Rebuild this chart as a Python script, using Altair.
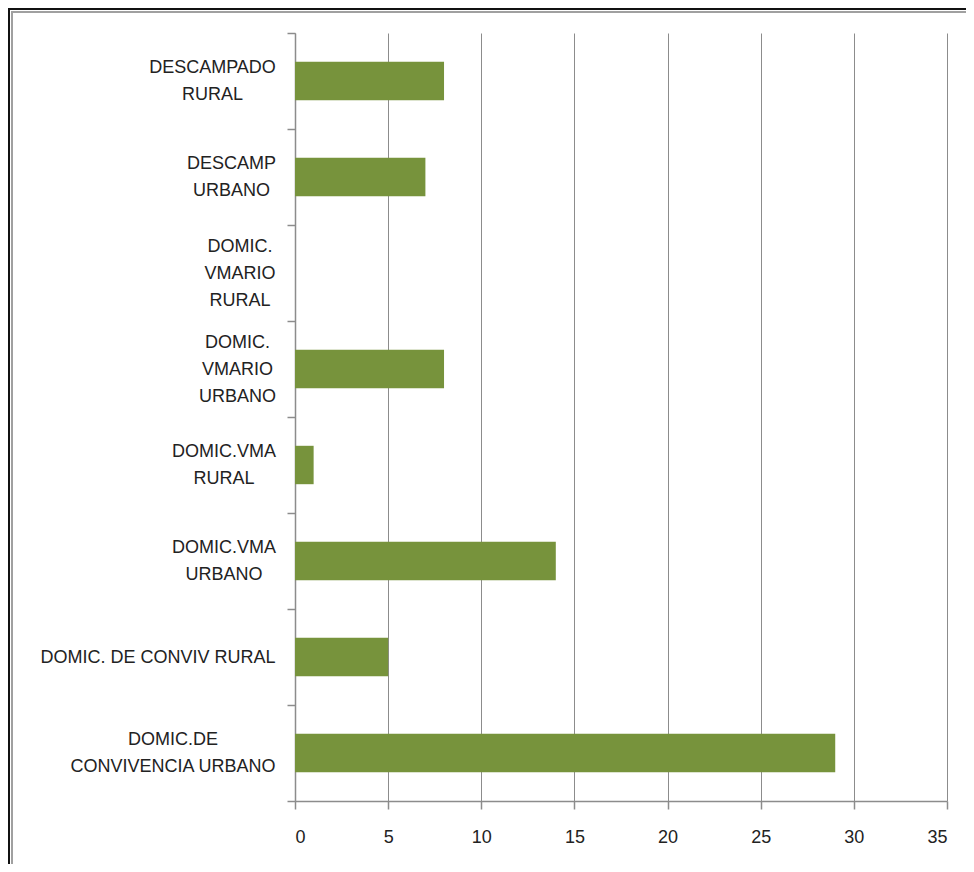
import altair as alt
import pandas as pd

categories = [
    "DESCAMPADO\nRURAL",
    "DESCAMP\nURBANO",
    "DOMIC.\nVMARIO\nRURAL",
    "DOMIC.\nVMARIO\nURBANO",
    "DOMIC.VMA\nRURAL",
    "DOMIC.VMA\nURBANO",
    "DOMIC. DE CONVIV RURAL",
    "DOMIC.DE\nCONVIVENCIA URBANO",
]
values = [8, 7, 0, 8, 1, 14, 5, 29]
x_ticks = [0, 5, 10, 15, 20, 25, 30, 35]

df = pd.DataFrame({"cat": categories, "val": values})

W, H = 652, 768
FONT = "Liberation Sans"
GRAY = "#8c8c8c"
LH = 27
BASE_PAD = 12

# approximate half-widths (px) of the longest line of each label at 18px Liberation Sans,
# used to centre multi-line labels the way the original does
half_widths = [63, 44, 35.5, 38, 51.5, 51.5, 117.5, 102.5]


def expr_str(s):
    return "'" + s.replace("\\", "\\\\").replace("\n", "\\n").replace("'", "\\'") + "'"


label_offset = {
    "condition": [
        {"test": "length(split(datum.label, '\\n')) == 3", "value": -LH},
        {"test": "length(split(datum.label, '\\n')) == 2", "value": -LH / 2},
    ],
    "value": 0,
}
label_padding = {
    "condition": [
        {"test": "datum.label == " + expr_str(c), "value": BASE_PAD + hw}
        for c, hw in zip(categories, half_widths)
    ],
    "value": BASE_PAD,
}

bars = alt.Chart(df).mark_bar(color="#77933C", height=alt.RelativeBandSize(band=0.4)).encode(
    x=alt.X("val:Q",
            scale=alt.Scale(domain=[0, 35], nice=False),
            axis=alt.Axis(values=x_ticks, title=None, grid=True, gridColor=GRAY,
                          gridWidth=1, domainColor=GRAY, tickColor=GRAY, tickSize=8,
                          labelFont=FONT, labelFontSize=18, labelColor="#222222",
                          labelPadding=19, domainWidth=1.5, tickWidth=1.5)),
    y=alt.Y("cat:N", sort=categories,
            scale=alt.Scale(paddingInner=0, paddingOuter=0),
            axis=alt.Axis(title=None, tickBand="extent", domainColor=GRAY, tickColor=GRAY,
                          tickSize=8, labelFont=FONT, labelFontSize=18, labelColor="#222222",
                          labelPadding=label_padding, labelAlign="center",
                          labelLineHeight=LH, labelLimit=400,
                          labelBaseline="middle", labelOffset=label_offset,
                          labelExpr="split(datum.label, '\\n')", domainWidth=1.5, tickWidth=1.5)),
)

frame_df = pd.DataFrame({"a": [0]})
top_black = alt.Chart(frame_df).mark_rule(color="#111111", strokeWidth=2).encode(
    x=alt.value(-287), x2=alt.value(W + 19), y=alt.value(-24))
top_gray = alt.Chart(frame_df).mark_rule(color="#a0a0a0", strokeWidth=2).encode(
    x=alt.value(-283), x2=alt.value(W + 19), y=alt.value(-21))
left_black = alt.Chart(frame_df).mark_rule(color="#111111", strokeWidth=2).encode(
    x=alt.value(-286), y=alt.value(-25), y2=alt.value(H + 63))
left_gray = alt.Chart(frame_df).mark_rule(color="#a0a0a0", strokeWidth=2).encode(
    x=alt.value(-283), y=alt.value(-22), y2=alt.value(H + 63))

chart = alt.layer(bars, top_black, top_gray, left_black, left_gray).properties(
    width=W, height=H,
    autosize=alt.AutoSizeParams(type="none"),
    padding={"left": 287, "top": 25, "right": 19, "bottom": 63},
).configure_view(stroke=None)

chart.save("out.html", embed_options={"renderer": "svg", "actions": False})
